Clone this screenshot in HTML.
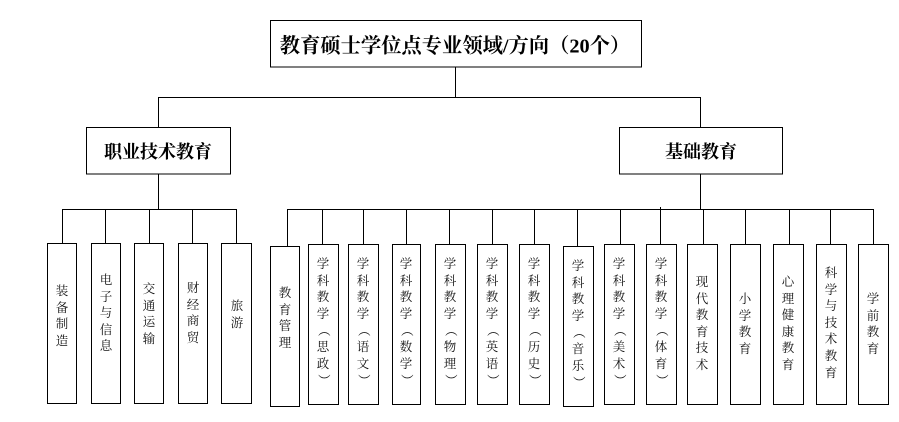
<!DOCTYPE html>
<html><head><meta charset="utf-8"><style>
html,body{margin:0;padding:0;background:#fff;}
body{width:899px;height:422px;position:relative;overflow:hidden;}
svg{position:absolute;left:0;top:0;}
.t{position:absolute;font-family:"Liberation Serif","Noto Serif CJK SC",serif;color:#000;white-space:nowrap;transform:translate(-50%,-50%);}
.h{font-weight:bold;}
.c{position:absolute;width:20px;margin-left:-10px;font-family:"Liberation Serif","Noto Serif CJK SC",serif;font-size:12.5px;color:#111;text-align:center;}
.c span{display:block;height:16.6px;line-height:16.6px;}
.c span.o{transform:rotate(90deg);}
</style></head><body>
<svg width="899" height="422" viewBox="0 0 899 422" shape-rendering="crispEdges">
<g fill="none" stroke="#000" stroke-width="1.2">
<rect x="270.5" y="20.5" width="371" height="46.5"/>
<line x1="455.5" y1="67" x2="455.5" y2="97.5"/>
<line x1="158" y1="97.5" x2="701" y2="97.5"/>
<line x1="158.5" y1="97" x2="158.5" y2="127"/>
<line x1="700.5" y1="97" x2="700.5" y2="127"/>
<rect x="86.5" y="127.5" width="144" height="46.5"/>
<rect x="619.5" y="127.5" width="163" height="46.5"/>
<line x1="158.5" y1="174" x2="158.5" y2="209.5"/>
<line x1="700.5" y1="174" x2="700.5" y2="209.5"/>
<line x1="62" y1="209.5" x2="237" y2="209.5"/>
<line x1="287" y1="209.5" x2="874" y2="209.5"/>
<line x1="62.5" y1="209" x2="62.5" y2="243"/>
<line x1="105.5" y1="209" x2="105.5" y2="243"/>
<line x1="149.5" y1="209" x2="149.5" y2="243"/>
<line x1="192.5" y1="209" x2="192.5" y2="243"/>
<line x1="236.5" y1="209" x2="236.5" y2="243"/>
<rect x="47.5" y="243.5" width="29" height="160"/>
<rect x="91.5" y="243.5" width="29" height="160"/>
<rect x="134.5" y="243.5" width="29" height="160"/>
<rect x="178.5" y="243.5" width="29" height="160"/>
<rect x="221.5" y="243.5" width="30" height="160"/>
<line x1="287.5" y1="209" x2="287.5" y2="246"/>
<line x1="322.5" y1="209" x2="322.5" y2="244"/>
<line x1="363.5" y1="209" x2="363.5" y2="244"/>
<line x1="406.5" y1="209" x2="406.5" y2="244"/>
<line x1="449.5" y1="209" x2="449.5" y2="244"/>
<line x1="492.5" y1="209" x2="492.5" y2="244"/>
<line x1="534.5" y1="209" x2="534.5" y2="244"/>
<line x1="577.5" y1="209" x2="577.5" y2="246"/>
<line x1="620.5" y1="209" x2="620.5" y2="244"/>
<line x1="660.5" y1="207" x2="660.5" y2="244"/>
<line x1="703.5" y1="209" x2="703.5" y2="244"/>
<line x1="745.5" y1="209" x2="745.5" y2="244"/>
<line x1="789.5" y1="209" x2="789.5" y2="244"/>
<line x1="830.5" y1="209" x2="830.5" y2="244"/>
<line x1="873.5" y1="209" x2="873.5" y2="244"/>
<rect x="270.5" y="246.5" width="29" height="160"/>
<rect x="308.5" y="244.5" width="30" height="160"/>
<rect x="348.5" y="244.5" width="30" height="160"/>
<rect x="392.5" y="244.5" width="28" height="160"/>
<rect x="435.5" y="244.5" width="30" height="160"/>
<rect x="477.5" y="244.5" width="30" height="160"/>
<rect x="519.5" y="244.5" width="30" height="160"/>
<rect x="563.5" y="246.5" width="30" height="160"/>
<rect x="604.5" y="244.5" width="30" height="160"/>
<rect x="646.5" y="244.5" width="30" height="160"/>
<rect x="687.5" y="244.5" width="30" height="160"/>
<rect x="730.5" y="244.5" width="30" height="160"/>
<rect x="773.5" y="244.5" width="30" height="160"/>
<rect x="816.5" y="244.5" width="30" height="160"/>
<rect x="858.5" y="244.5" width="30" height="160"/>
</g>
</svg>

<div class="t h" style="left:455px;top:44px;font-size:20.3px;">教育硕士学位点专业领域/方向（20个）</div>
<div class="t h" style="left:158px;top:151px;font-size:18px;">职业技术教育</div>
<div class="t h" style="left:701px;top:151px;font-size:18px;">基础教育</div>

<div class="c" style="left:62px;top:283px;"><span>装</span><span>备</span><span>制</span><span>造</span></div>
<div class="c" style="left:106px;top:272px;"><span>电</span><span>子</span><span>与</span><span>信</span><span>息</span></div>
<div class="c" style="left:149px;top:281px;"><span>交</span><span>通</span><span>运</span><span>输</span></div>
<div class="c" style="left:193px;top:280px;"><span>财</span><span>经</span><span>商</span><span>贸</span></div>
<div class="c" style="left:237px;top:298px;"><span>旅</span><span>游</span></div>

<div class="c" style="left:285px;top:285px;"><span>教</span><span>育</span><span>管</span><span>理</span></div>
<div class="c" style="left:323px;top:256px;"><span>学</span><span>科</span><span>教</span><span>学</span><span class="o">（</span><span>思</span><span>政</span><span class="o">）</span></div>
<div class="c" style="left:363px;top:256px;"><span>学</span><span>科</span><span>教</span><span>学</span><span class="o">（</span><span>语</span><span>文</span><span class="o">）</span></div>
<div class="c" style="left:406px;top:256px;"><span>学</span><span>科</span><span>教</span><span>学</span><span class="o">（</span><span>数</span><span>学</span><span class="o">）</span></div>
<div class="c" style="left:450px;top:256px;"><span>学</span><span>科</span><span>教</span><span>学</span><span class="o">（</span><span>物</span><span>理</span><span class="o">）</span></div>
<div class="c" style="left:492px;top:256px;"><span>学</span><span>科</span><span>教</span><span>学</span><span class="o">（</span><span>英</span><span>语</span><span class="o">）</span></div>
<div class="c" style="left:534px;top:256px;"><span>学</span><span>科</span><span>教</span><span>学</span><span class="o">（</span><span>历</span><span>史</span><span class="o">）</span></div>
<div class="c" style="left:578px;top:258px;"><span>学</span><span>科</span><span>教</span><span>学</span><span class="o">（</span><span>音</span><span>乐</span><span class="o">）</span></div>
<div class="c" style="left:619px;top:256px;"><span>学</span><span>科</span><span>教</span><span>学</span><span class="o">（</span><span>美</span><span>术</span><span class="o">）</span></div>
<div class="c" style="left:661px;top:256px;"><span>学</span><span>科</span><span>教</span><span>学</span><span class="o">（</span><span>体</span><span>育</span><span class="o">）</span></div>
<div class="c" style="left:702px;top:274px;"><span>现</span><span>代</span><span>教</span><span>育</span><span>技</span><span>术</span></div>
<div class="c" style="left:745px;top:291px;"><span>小</span><span>学</span><span>教</span><span>育</span></div>
<div class="c" style="left:788px;top:274px;"><span>心</span><span>理</span><span>健</span><span>康</span><span>教</span><span>育</span></div>
<div class="c" style="left:831px;top:265px;"><span>科</span><span>学</span><span>与</span><span>技</span><span>术</span><span>教</span><span>育</span></div>
<div class="c" style="left:873px;top:291px;"><span>学</span><span>前</span><span>教</span><span>育</span></div>
</body></html>
